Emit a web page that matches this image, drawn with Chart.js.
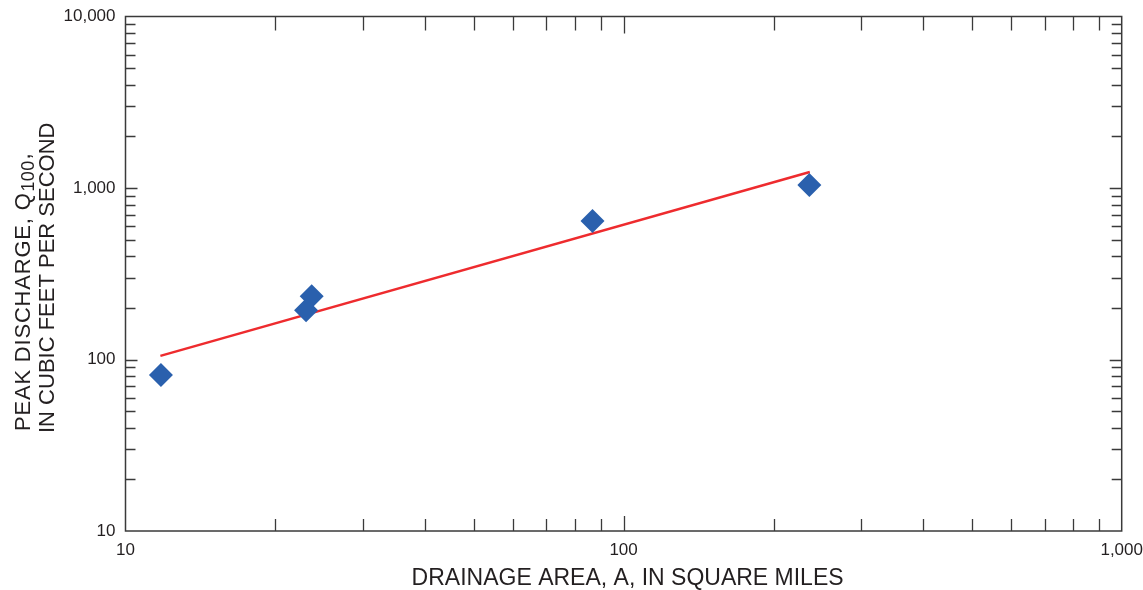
<!DOCTYPE html>
<html>
<head>
<meta charset="utf-8">
<script src="https://cdn.jsdelivr.net/npm/chart.js@4/dist/chart.umd.min.js"></script>
<style>
  html, body { margin: 0; padding: 0; background: #fff; }
  #wrap { width: 1143px; height: 590px; position: relative; }
</style>
</head>
<body>
<div id="wrap"><canvas id="c" width="1143" height="590"></canvas></div>
<script>
// ---- data ----
const drainageArea = [11.78, 23.04, 23.65, 86.6, 236];
const peakDischarge = [81.3, 194, 234, 642, 1041];
const fitArea = [11.75, 236.5];
const fitDischarge = [105, 1240];
const xMajorTicks = [10, 100, 1000];
const yMajorTicks = [10, 100, 1000, 10000];
const xTitle = 'DRAINAGE AREA, A, IN SQUARE MILES';
const yTitleLine1 = ['PEAK DISCHARGE, Q', '100', ','];
const yTitleLine2 = 'IN CUBIC FEET PER SECOND';

const FONT = '"Liberation Sans", Arial, Helvetica, sans-serif';
const TEXT = '#231f20';
const AXIS = '#3a3a3a';

function minorsFor(majors) {
  const out = [];
  for (let i = 0; i < majors.length - 1; i++) {
    for (let k = 2; k <= 9; k++) out.push(majors[i] * k);
  }
  return out;
}
const fmt = v => Number(v).toLocaleString('en-US');

const frameAndTicks = {
  id: 'frameAndTicks',
  afterDraw(chart) {
    const { ctx, chartArea: a, scales } = chart;
    const xs = scales.x, ys = scales.y;
    ctx.save();
    ctx.strokeStyle = AXIS;
    ctx.lineWidth = 1.5;
    ctx.strokeRect(a.left, a.top, a.right - a.left, a.bottom - a.top);
    ctx.lineWidth = 1.3;
    ctx.beginPath();
    // x ticks top & bottom
    const xt = [...xMajorTicks.map(v => [v, 15]), ...minorsFor(xMajorTicks).map(v => [v, 12])];
    xt.forEach(([v, len]) => {
      const px = Math.round(xs.getPixelForValue(v)) + 0.5;
      if (px <= a.left + 1 || px >= a.right - 1) return;
      ctx.moveTo(px, a.bottom); ctx.lineTo(px, a.bottom - len);
      ctx.moveTo(px, a.top); ctx.lineTo(px, a.top + len + 2);
    });
    // y ticks left & right
    const yt = [...yMajorTicks.map(v => [v, 12]), ...minorsFor(yMajorTicks).map(v => [v, 10])];
    yt.forEach(([v, len]) => {
      const py = Math.round(ys.getPixelForValue(v)) + 0.5;
      if (py <= a.top + 1 || py >= a.bottom - 1) return;
      ctx.moveTo(a.left, py); ctx.lineTo(a.left + len, py);
      ctx.moveTo(a.right, py); ctx.lineTo(a.right - len, py);
    });
    ctx.stroke();

    // axis titles
    ctx.fillStyle = TEXT;
    ctx.font = '23px ' + FONT;
    ctx.textAlign = 'center';
    ctx.textBaseline = 'alphabetic';
    ctx.fillText(xTitle, (a.left + a.right) / 2 + 4, 585);

    // y title, rotated, left-aligned from the bottom
    ctx.save();
    ctx.translate(30, 431);
    ctx.rotate(-Math.PI / 2);
    ctx.textAlign = 'left';
    ctx.font = '22px ' + FONT;
    ctx.letterSpacing = '0.8px';
    let x = 0;
    ctx.fillText(yTitleLine1[0], x, 0);
    x += ctx.measureText(yTitleLine1[0]).width + 1;
    ctx.font = '18px ' + FONT;
    ctx.letterSpacing = '0.3px';
    ctx.fillText(yTitleLine1[1], x, 4);
    x += ctx.measureText(yTitleLine1[1]).width + 1;
    ctx.font = '22px ' + FONT;
    ctx.letterSpacing = '0px';
    ctx.fillText(yTitleLine1[2], x, 0);
    ctx.restore();

    ctx.save();
    ctx.translate(54, 433);
    ctx.rotate(-Math.PI / 2);
    ctx.textAlign = 'left';
    ctx.font = '22px ' + FONT;
    ctx.fillText(yTitleLine2, 0, 0);
    ctx.restore();
    ctx.restore();
  }
};

new Chart(document.getElementById('c'), {
  type: 'scatter',
  data: {
    datasets: [
      {
        type: 'line',
        label: 'Regression',
        data: fitArea.map((x, i) => ({ x, y: fitDischarge[i] })),
        borderColor: '#ee2b2e',
        borderWidth: 2.5,
        pointRadius: 0,
        fill: false,
        order: 2
      },
      {
        label: 'Sites',
        data: drainageArea.map((x, i) => ({ x, y: peakDischarge[i] })),
        pointStyle: 'rectRot',
        pointRadius: 12,
        pointHoverRadius: 12,
        backgroundColor: '#2a60ad',
        borderColor: '#2a60ad',
        borderWidth: 0,
        order: 1
      }
    ]
  },
  options: {
    responsive: false,
    animation: false,
    devicePixelRatio: 1,
    layout: { padding: { top: 16.5, right: 21.3, left: 0, bottom: 0 } },
    plugins: { legend: { display: false }, tooltip: { enabled: false } },
    scales: {
      x: {
        type: 'logarithmic',
        min: 10, max: 1000,
        grid: { display: false, drawTicks: false },
        border: { display: false },
        afterBuildTicks: s => { s.ticks = xMajorTicks.map(v => ({ value: v })); },
        afterFit: s => { s.height = 59; s.paddingLeft = 0; s.paddingRight = 0; },
        ticks: {
          callback: v => fmt(v),
          color: TEXT,
          font: { family: FONT, size: 17 },
          padding: 9,
          maxRotation: 0,
          autoSkip: false
        }
      },
      y: {
        type: 'logarithmic',
        min: 10, max: 10000,
        grid: { display: false, drawTicks: false },
        border: { display: false },
        afterBuildTicks: s => { s.ticks = yMajorTicks.map(v => ({ value: v })); },
        afterFit: s => { s.width = 125.5; s.paddingTop = 0; s.paddingBottom = 0; },
        ticks: {
          callback: v => fmt(v),
          color: TEXT,
          font: { family: FONT, size: 17 },
          padding: 10,
          autoSkip: false
        }
      }
    }
  },
  plugins: [frameAndTicks]
});
</script>
</body>
</html>
